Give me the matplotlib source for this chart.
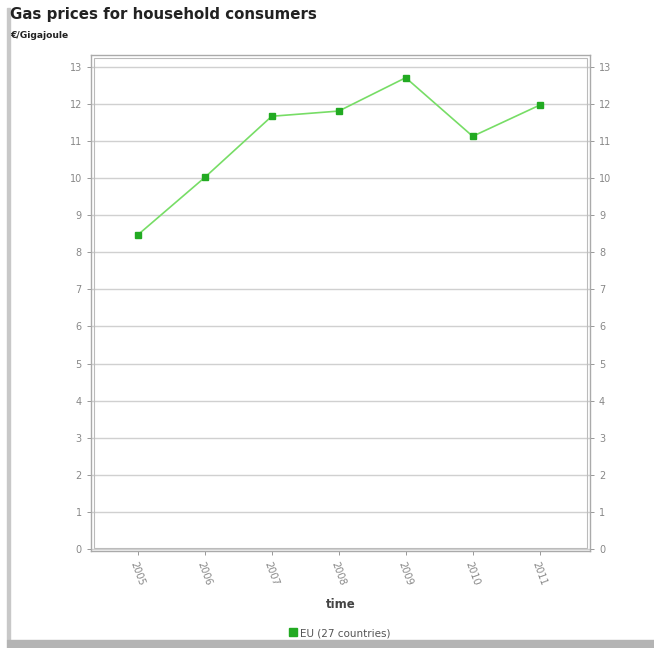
import matplotlib.pyplot as plt
from matplotlib.patches import Rectangle

years = ["2005", "2006", "2007", "2008", "2009", "2010", "2011"]
prices = [8.47, 10.02, 11.67, 11.81, 12.71, 11.13, 11.97]
yticks = list(range(0, 14))

fig = plt.figure(figsize=(6.54, 6.48), dpi=100)

# cadre gris du visuel (bord gauche + ombre en bas)
fig.patches.append(Rectangle((0.010, 0.012), 0.005, 0.975, transform=fig.transFigure,
                             color="#c8c8c8", zorder=0))
fig.patches.append(Rectangle((0.010, 0.0), 0.99, 0.013, transform=fig.transFigure,
                             color="#b4b4b4", zorder=0))

ax = fig.add_axes([0.139, 0.150, 0.763, 0.765])
x = range(len(years))
ax.plot(x, prices, "-", color="#77dd66", lw=1.2, zorder=3)
ax.plot(x, prices, "s", color="#22aa22", ms=5, zorder=4,
        label="EU (27 countries)")

ax.set_xlim(-0.7, 6.75)
ax.set_ylim(-0.05, 13.32)
ax.set_yticks(yticks)
ax.set_xticks(list(x))
ax.set_xticklabels(years, rotation=-70, ha="left", rotation_mode="anchor")
ax.grid(axis="y", color="#d0d0d0", lw=1)
ax.tick_params(colors="#888888", labelsize=7, length=3, width=0.6)
ax.tick_params(axis="y", right=True, labelright=True)
for s in ax.spines.values():
    s.set_color("#aaaaaa")
    s.set_linewidth(1.0)

# double trait du cadre des axes
ax.add_patch(Rectangle((0.006, 0.006), 0.988, 0.988, transform=ax.transAxes,
                       fill=False, ec="#bbbbbb", lw=0.8, zorder=5))

ax.set_xlabel("time", fontsize=8.5, fontweight="bold", color="#444444", labelpad=8)

fig.text(0.015, 0.977, "Gas prices for household consumers", fontsize=10.8,
         fontweight="bold", color="#222222", va="center")
fig.text(0.015, 0.945, "€/Gigajoule", fontsize=6.6, fontweight="bold",
         color="#222222", va="center")

fig.legend(loc="center", bbox_to_anchor=(0.52, 0.023), frameon=False, fontsize=7.5,
           handlelength=0.6, handletextpad=0.3, labelcolor="#555555",
           markerscale=1.2)

fig.savefig("out.png", dpi=100)
